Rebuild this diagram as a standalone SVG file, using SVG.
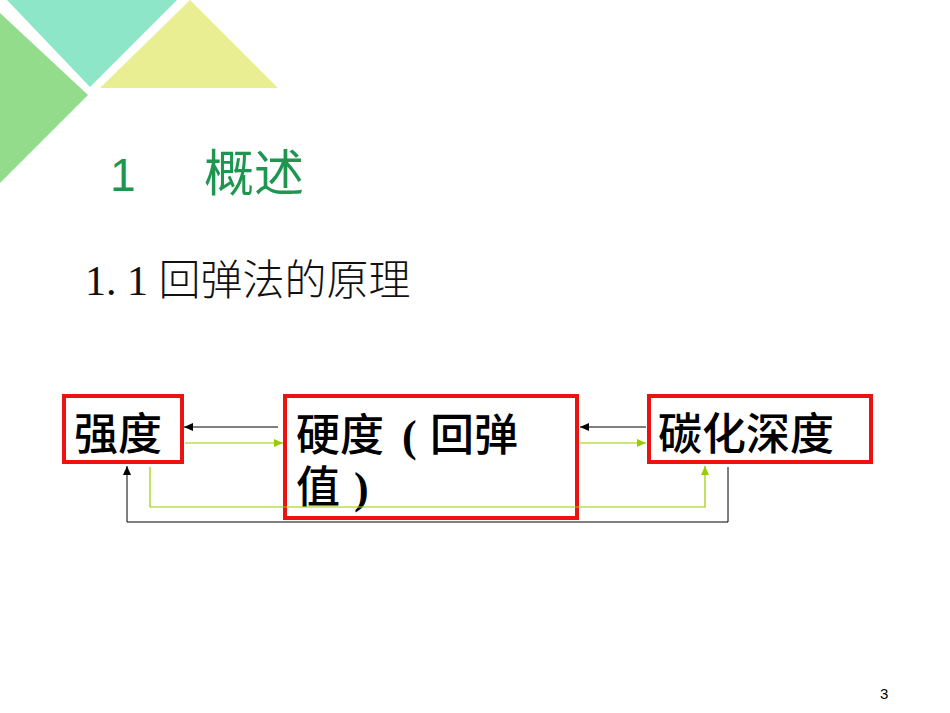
<svg xmlns="http://www.w3.org/2000/svg" width="950" height="713" viewBox="0 0 950 713">
<style>
.box{fill:none;stroke:#EE1111;stroke-width:4}
.bt{font-family:"Liberation Serif","Noto Sans CJK SC",serif;font-size:44px;font-weight:500;fill:#000}
.par{font-weight:bold}
.blk{fill:none;stroke:#000;stroke-width:1}
.grn{fill:none;stroke:#99CC00;stroke-width:1.2}
</style>
<defs>
<marker id="ab" markerWidth="10" markerHeight="8" refX="9" refY="4" orient="auto" markerUnits="userSpaceOnUse"><path d="M0,0 L9,4 L0,8 z" fill="#000"/></marker>
<marker id="ag" markerWidth="10" markerHeight="8" refX="9" refY="4" orient="auto" markerUnits="userSpaceOnUse"><path d="M0,0 L9,4 L0,8 z" fill="#99CC00"/></marker>
</defs>
<rect width="950" height="713" fill="#fff"/>
<g id="decor">
<polygon points="0,13 88,95 0,183" fill="#92DC8C"/>
<polygon points="7,0 177,0 90,87" fill="#8EE6C8"/>
<polygon points="100,88 278,88 190,0" fill="#EAEE92"/>
</g>
<g id="title">
<text x="110" y="191" font-family="'Liberation Sans','Noto Sans CJK SC',sans-serif" font-size="46" fill="#1E9650">1</text>
<text x="204" y="191" font-family="'Liberation Sans','Noto Sans CJK SC',sans-serif" font-size="50" fill="#1E9650">概述</text>
</g>
<g id="subtitle">
<text x="85" y="295" font-family="'Liberation Serif','Noto Sans CJK SC',serif" font-size="42" font-weight="300" fill="#111">1. 1 回弹法的原理</text>
</g>
<g id="node-strength">
<rect class="box" x="64" y="396" width="118" height="66"/>
<text class="bt" x="74" y="450">强度</text>
</g>
<g id="node-hardness">
<rect class="box" x="285" y="396" width="292" height="122"/>
<text class="bt"><tspan x="296" y="451">硬度</tspan><tspan class="par" x="402" y="451">(</tspan><tspan x="430" y="451">回弹</tspan><tspan x="296" y="503">值</tspan><tspan class="par" x="354" y="503">)</tspan></text>
</g>
<g id="node-carbon">
<rect class="box" x="649" y="396" width="222" height="66"/>
<text class="bt" x="658" y="450">碳化深度</text>
</g>
<g id="connectors">
<line class="blk" x1="278" y1="427" x2="184" y2="427" marker-end="url(#ab)"/>
<line class="grn" x1="185" y1="443" x2="283" y2="443" marker-end="url(#ag)"/>
<line class="blk" x1="646" y1="427" x2="580" y2="427" marker-end="url(#ab)"/>
<line class="grn" x1="580" y1="443" x2="646" y2="443" marker-end="url(#ag)"/>
<polyline class="grn" points="150,467 150,507 705,507 705,466" marker-end="url(#ag)"/>
<polyline class="blk" points="728,467 728,522 127,522 127,466" marker-end="url(#ab)"/>
</g>
<text x="880" y="699" font-family="'Liberation Sans',sans-serif" font-size="15" fill="#000">3</text>
</svg>
